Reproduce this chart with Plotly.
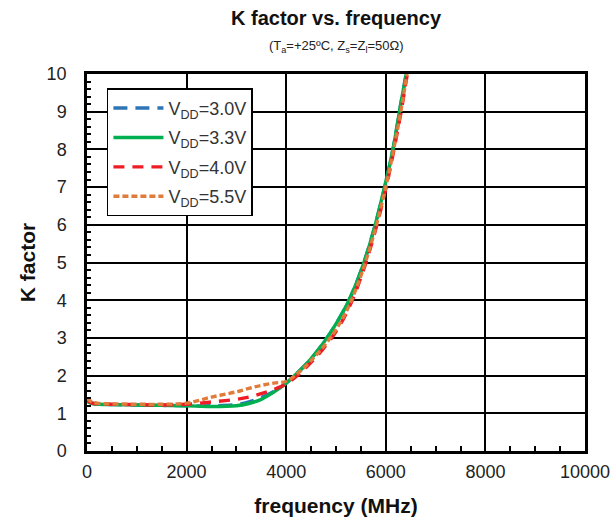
import plotly.graph_objects as go

freq = [0, 100, 250, 500, 1000, 1500, 2000, 2500, 3000, 3250, 3500, 3750, 4000,
        4250, 4500, 4750, 5000, 5250, 5500, 5750, 6000, 6150, 6300, 6450]
k_30 = [1.33, 1.27, 1.24, 1.23, 1.22, 1.21, 1.2, 1.2, 1.23, 1.3, 1.42, 1.58, 1.8,
        2.1, 2.45, 2.87, 3.37, 3.97, 4.77, 5.82, 7.12, 8.05, 9.2, 10.3]
k_33 = [1.32, 1.26, 1.24, 1.23, 1.22, 1.21, 1.2, 1.18, 1.2, 1.26, 1.37, 1.56, 1.8,
        2.1, 2.45, 2.87, 3.37, 3.97, 4.77, 5.82, 7.15, 8.05, 9.2, 10.3]
k_40 = [1.35, 1.27, 1.25, 1.24, 1.23, 1.22, 1.24, 1.3, 1.37, 1.43, 1.52, 1.63, 1.78,
        2.03, 2.35, 2.72, 3.17, 3.77, 4.6, 5.65, 6.95, 7.9, 8.95, 10.15]
k_55 = [1.4, 1.3, 1.26, 1.25, 1.24, 1.24, 1.27, 1.43, 1.57, 1.66, 1.74, 1.8, 1.85,
        2.08, 2.4, 2.77, 3.22, 3.82, 4.65, 5.7, 7.0, 7.95, 9.0, 10.2]

series = [
    ("V<sub>DD</sub>=3.0V", k_30, "#2E75B6", "14px,8px"),
    ("V<sub>DD</sub>=3.3V", k_33, "#00B050", "solid"),
    ("V<sub>DD</sub>=4.0V", k_40, "#EE1C25", "11px,8px"),
    ("V<sub>DD</sub>=5.5V", k_55, "#E07B39", "6px,3px"),
]

fig = go.Figure()
for i, (name, ys, color, dash) in enumerate(series):
    fig.add_trace(go.Scatter(
        x=freq, y=ys, mode="lines", name=name, legendgroup="g%d" % i,
        line=dict(color=color, width=3.4, dash=dash, shape="spline", smoothing=1.0),
    ))

font = "Liberation Sans, Arial, sans-serif"
fig.update_layout(
    width=616, height=520,
    margin=dict(l=87, r=31, t=74, b=69),
    paper_bgcolor="white", plot_bgcolor="white",
    font=dict(family=font, size=18, color="#222"),
    showlegend=True,
    legend=dict(
        x=0.04, y=0.962, xanchor="left", yanchor="top",
        bgcolor="white", bordercolor="black", borderwidth=1.5,
        font=dict(size=18, color="#333"),
        tracegroupgap=3, itemwidth=50,
    ),
    annotations=[
        dict(text="<b>K factor vs. frequency</b>", xref="paper", yref="paper",
             x=0.5, y=1, yanchor="middle", yshift=56, showarrow=False,
             font=dict(size=20, color="#111")),
        dict(text="(T<sub>a</sub>=+25ºC, Z<sub>s</sub>=Z<sub>l</sub>=50Ω)", xref="paper",
             yref="paper", x=0.5, y=1, yanchor="middle", yshift=28, showarrow=False,
             font=dict(size=13, color="#222")),
    ],
)

fig.update_xaxes(
    range=[0, 10000], dtick=2000, tick0=0, tickformat="d", automargin=False,
    ticklabelstandoff=3,
    showgrid=True, gridcolor="black", gridwidth=1.5,
    showline=True, linecolor="black", linewidth=2.5, mirror=True,
    ticks="inside", ticklen=5, tickcolor="black", tickwidth=1.5,
    minor=dict(dtick=500, ticks="inside", ticklen=5, tickcolor="black", tickwidth=1.5, showgrid=False),
    zeroline=False,
    title=dict(text="<b>frequency (MHz)</b>", font=dict(size=21, color="#111"), standoff=17),
)
fig.update_yaxes(
    range=[0, 10], dtick=1, tick0=0, ticklabelstandoff=14, automargin=False,
    showgrid=True, gridcolor="black", gridwidth=1.5,
    showline=True, linecolor="black", linewidth=2.5, mirror=True,
    ticks="inside", ticklen=5, tickcolor="black", tickwidth=1.5,
    minor=dict(dtick=0.2, ticks="inside", ticklen=4, tickcolor="black", tickwidth=1.5, showgrid=False),
    zeroline=False,
    title=dict(text="<b>K factor</b>", font=dict(size=21, color="#111"), standoff=6),
)

fig.write_html("out.html")
